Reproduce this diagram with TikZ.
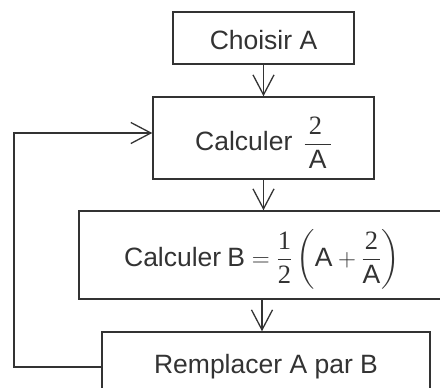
\documentclass[tikz,border=0pt]{standalone}
\usepackage{amsmath}
\usepackage{fontspec}
\setmainfont{Liberation Sans}
\newfontfamily\serifd{Liberation Serif}
\usetikzlibrary{arrows.meta}
\definecolor{ink}{HTML}{333333}
\tikzset{
  box/.style={draw=ink, line width=1.5pt, inner sep=0pt, text=ink,
    font=\fontsize{26.5}{30}\selectfont, align=center},
  arr/.style={draw=ink, line width=1.3pt, -{Straight Barb[length=20pt,width=21pt,line width=1.3pt]}},
}
\newcommand{\dg}[1]{\text{\serifd #1}}
\newcommand{\base}[2]{\raisebox{-#1}[0pt][0pt]{#2}}
\begin{document}
\begin{tikzpicture}[x=1pt,y=-1pt]
\clip (0,0) rectangle (440,388);
\fill[white] (0,0) rectangle (440,388);
\node[box, minimum width=181pt, minimum height=52pt] (b1) at (263.5,38) {\base{11pt}{Choisir A}};
\node[box, minimum width=221pt, minimum height=82pt] (b2) at (263.5,138)
  {\base{13pt}{Calculer\hspace{11pt}$\dfrac{\dg{2}\,}{\,\text{A}\,}$}};
\node[box, minimum width=366pt, minimum height=88pt] (b3) at (262,255)
  {\base{11pt}{Calculer\hspace{6pt}$\text{B}=\dfrac{\dg{1}}{\dg{2}}\left(\text{A}+\dfrac{\dg{2}}{\text{A}}\right)$}};
\node[box, minimum width=328pt, minimum height=64pt] (b4) at (266,364) {\base{9pt}{Remplacer A par B}};
\draw[arr] (b1.south) -- (b1.south |- b2.north);
\draw[arr] (b2.south) -- (b2.south |- b3.north);
\draw[arr] (b3.south) -- (b3.south |- b4.north);
\coordinate (corner) at (14,367);
\draw[arr] (b4.west |- corner) -- (corner) |- ([yshift=5pt]b2.west);
\end{tikzpicture}
\end{document}
